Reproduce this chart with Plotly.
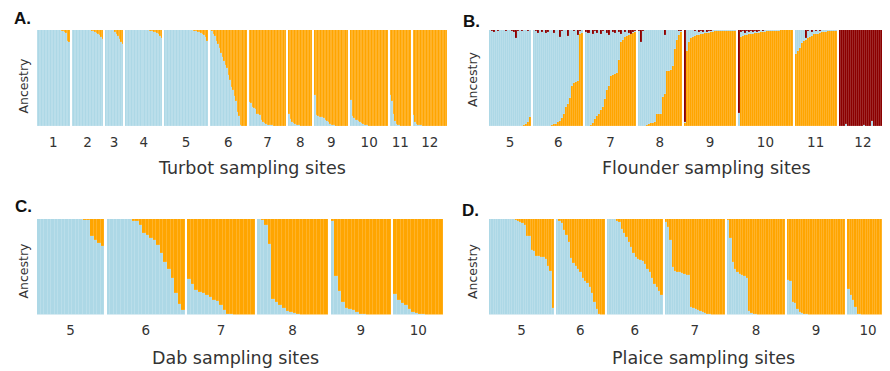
import plotly.graph_objects as go

# ---------------- data: ancestry proportions per individual ----------------
# Turbot (K=2): proportion of the light-blue cluster; orange = 1 - blue
turbot_sites = ["1", "2", "3", "4", "5", "6", "7", "8", "9", "10", "11", "12"]
turbot_blue = [
    [1, 1, 1, 1, 1, 1, 1, 1, 1, 1, 1, 1, 1, 1, 1, 0.995, 0.99, 0.985, 0.98, 0.97, 0.89, 0.88],
    [1, 1, 1, 1, 1, 1, 1, 1, 1, 1, 1, 0.998, 0.995, 0.99, 0.985, 0.98, 0.97, 0.96, 0.95, 0.93, 0.91],
    [1, 1, 1, 1, 1, 0.995, 0.98, 0.96, 0.94, 0.91, 0.88, 0.85],
    [1, 1, 1, 1, 1, 1, 1, 1, 1, 1, 1, 1, 1, 1, 0.998, 0.996, 0.994, 0.99, 0.985, 0.98, 0.975, 0.97, 0.96, 0.94, 0.92],
    [1, 1, 1, 1, 1, 1, 1, 1, 1, 1, 1, 1, 1, 1, 1, 0.999, 0.998, 0.997, 0.995, 0.993, 0.99, 0.985, 0.98, 0.975, 0.97, 0.96, 0.95, 0.93, 0.89],
    [1.0, 0.99, 0.96, 0.94, 0.89, 0.85, 0.81, 0.76, 0.72, 0.68, 0.64, 0.6, 0.53, 0.48, 0.41, 0.38, 0.31, 0.26, 0.15, 0.1, 0.01, 0, 0, 0, 0],
    [0.25, 0.24, 0.2, 0.19, 0.18, 0.13, 0.12, 0.11, 0.06, 0.04, 0.03, 0.02, 0.015, 0.01, 0.01, 0.01, 0.005, 0.005, 0.005, 0, 0, 0, 0, 0, 0],
    [0.12, 0.07, 0.04, 0.03, 0.02, 0.015, 0.01, 0.01, 0.005, 0.005, 0, 0, 0, 0, 0, 0],
    [0.32, 0.11, 0.1, 0.09, 0.09, 0.09, 0.08, 0.06, 0.05, 0.04, 0.02, 0.015, 0.01, 0.01, 0.005, 0.005, 0, 0, 0, 0, 0, 0, 0],
    [0.27, 0.1, 0.08, 0.06, 0.06, 0.05, 0.04, 0.03, 0.02, 0.015, 0.01, 0.01, 0.005, 0.005, 0, 0, 0, 0, 0, 0, 0, 0, 0, 0, 0],
    [0.32, 0.26, 0.12, 0.05, 0.02, 0.01, 0.01, 0.005, 0, 0, 0, 0, 0, 0],
    [0.11, 0.04, 0.02, 0.015, 0.01, 0.01, 0.005, 0.005, 0, 0, 0, 0, 0, 0, 0, 0, 0, 0, 0, 0, 0, 0, 0],
]

# Flounder (K=3): orange and dark-red proportions; blue = remainder
flounder_sites = ["5", "6", "7", "8", "9", "10", "11", "12"]
flounder_orange = [
    [0, 0, 0, 0, 0, 0, 0, 0, 0, 0, 0, 0, 0, 0, 0, 0, 0.005, 0.01, 0.02, 0.04, 0.09],
    [0, 0, 0, 0, 0, 0, 0, 0, 0, 0.01, 0.02, 0.02, 0.045, 0.05, 0.08, 0.13, 0.2, 0.23, 0.29, 0.42, 0.45, 0.46, 0.47, 0.96, 0.97],
    [0, 0.005, 0.01, 0.03, 0.07, 0.1, 0.12, 0.17, 0.2, 0.28, 0.38, 0.42, 0.52, 0.53, 0.54, 0.55, 0.69, 0.88, 0.9, 0.93, 0.94, 0.95, 0.96, 0.97, 0.98],
    [0, 0, 0, 0.005, 0.01, 0.02, 0.03, 0.03, 0.04, 0.12, 0.12, 0.13, 0.3, 0.33, 0.57, 0.57, 0.58, 0.62, 0.8, 0.9, 0.95, 0.98],
    [0.03, 0.78, 0.88, 0.92, 0.93, 0.94, 0.95, 0.95, 0.96, 0.96, 0.97, 0.97, 0.97, 0.98, 0.98, 0.99, 0.99, 0.99, 0.99, 0.99, 0.99, 0.99, 0.99, 0.99, 0.99, 0.99],
    [0, 0.93, 0.94, 0.95, 0.95, 0.96, 0.96, 0.96, 0.97, 0.97, 0.97, 0.98, 0.98, 0.98, 0.99, 0.99, 0.99, 0.99, 0.99, 0.99, 0.99, 1, 1, 1, 1, 1, 1],
    [0.75, 0.78, 0.81, 0.86, 0.89, 0.9, 0.92, 0.93, 0.94, 0.96, 0.96, 0.96, 0.97, 0.975, 0.98, 0.98, 0.99, 0.99, 0.99, 0.99, 0.99],
    [0, 0, 0, 0, 0, 0, 0, 0, 0, 0, 0, 0, 0, 0, 0, 0, 0, 0, 0, 0, 0, 0, 0, 0],
]
flounder_red = [
    [0, 0.01, 0.02, 0, 0.015, 0, 0.005, 0, 0.01, 0, 0, 0.01, 0.02, 0.08, 0.01, 0, 0.01, 0, 0, 0.01, 0],
    [0, 0.01, 0.03, 0, 0.02, 0, 0.03, 0.02, 0, 0, 0.03, 0, 0, 0.07, 0.01, 0, 0, 0.06, 0, 0, 0.01, 0, 0.05, 0.01, 0],
    [0.02, 0.03, 0, 0.04, 0.01, 0.03, 0, 0.04, 0.01, 0, 0.03, 0.05, 0, 0.02, 0.03, 0, 0.02, 0.04, 0, 0.02, 0, 0.03, 0.04, 0.02, 0.01],
    [0.01, 0.12, 0.01, 0, 0.005, 0, 0, 0, 0, 0, 0, 0, 0, 0.05, 0, 0, 0, 0, 0, 0, 0.01, 0.01],
    [0.96, 0, 0, 0, 0, 0.01, 0, 0.02, 0.01, 0.02, 0, 0.02, 0.01, 0.01, 0, 0, 0, 0, 0, 0, 0, 0, 0, 0, 0, 0],
    [0.86, 0.02, 0.01, 0.03, 0.01, 0.02, 0.01, 0.02, 0.01, 0.02, 0.01, 0, 0.01, 0, 0, 0, 0, 0, 0, 0, 0, 0, 0, 0, 0, 0, 0],
    [0, 0, 0, 0, 0, 0.08, 0.01, 0, 0.02, 0, 0.01, 0, 0.01, 0, 0, 0, 0, 0, 0, 0, 0],
    [1, 1, 1, 0.98, 1, 1, 1, 1, 1, 1, 1, 1, 0.99, 1, 1, 1, 0.945, 1, 1, 1, 1, 1, 0.9, 1],
]

# Dab (K=2): blue proportion
dab_sites = ["5", "6", "7", "8", "9", "10"]
dab_blue = [
    [1, 1, 1, 1, 1, 1, 1, 1, 1, 1, 1, 0.999, 0.995, 0.99, 0.985, 0.82, 0.78, 0.75, 0.72],
    [1, 1, 1, 1, 1, 1, 0.995, 0.98, 0.98, 0.94, 0.85, 0.83, 0.8, 0.78, 0.73, 0.64, 0.55, 0.48, 0.38, 0.22, 0.11, 0.05],
    [0.37, 0.32, 0.26, 0.24, 0.23, 0.2, 0.18, 0.15, 0.14, 0.1, 0.05, 0.01, 0.005, 0, 0, 0, 0, 0, 0],
    [1, 0.99, 0.94, 0.74, 0.16, 0.13, 0.1, 0.07, 0.04, 0.03, 0.015, 0.01, 0, 0, 0, 0, 0, 0, 0, 0],
    [0.98, 0.4, 0.25, 0.13, 0.07, 0.055, 0.05, 0.025, 0.01, 0.005, 0, 0, 0, 0, 0, 0, 0],
    [0.21, 0.15, 0.12, 0.1, 0.06, 0.03, 0.015, 0.01, 0.005, 0, 0, 0, 0, 0],
]

# Plaice (K=2): blue proportion
plaice_sites = ["5", "6", "6", "7", "8", "9", "10"]
plaice_blue = [
    [1, 1, 1, 1, 1, 1, 1, 1, 1, 0.998, 0.995, 0.99, 0.98, 0.97, 0.955, 0.94, 0.82, 0.82, 0.68, 0.67, 0.61, 0.61, 0.6, 0.6, 0.58, 0.51, 0.46, 0.07],
    [1, 0.98, 0.955, 0.88, 0.83, 0.76, 0.59, 0.54, 0.51, 0.48, 0.45, 0.38, 0.35, 0.33, 0.29, 0.22, 0.13, 0.06, 0.005, 0, 0],
    [1, 1, 1, 0.995, 0.98, 0.97, 0.9, 0.85, 0.81, 0.76, 0.71, 0.64, 0.6, 0.58, 0.57, 0.56, 0.53, 0.48, 0.45, 0.38, 0.32, 0.29, 0.25, 0.2],
    [0.97, 0.92, 0.78, 0.5, 0.46, 0.45, 0.44, 0.43, 0.42, 0.41, 0.41, 0.08, 0.07, 0.06, 0.05, 0.04, 0.03, 0.02, 0.01, 0.005, 0, 0, 0, 0, 0, 0],
    [0.99, 0.8, 0.55, 0.48, 0.44, 0.42, 0.41, 0.4, 0.38, 0.04, 0.02, 0.01, 0.005, 0, 0, 0, 0, 0, 0, 0, 0, 0, 0, 0, 0],
    [0.36, 0.35, 0.13, 0.12, 0.06, 0.03, 0.02, 0.01, 0.005, 0, 0, 0, 0, 0, 0, 0, 0, 0, 0, 0, 0, 0, 0, 0, 0],
    [0.27, 0.2, 0.15, 0.08, 0.01, 0.005, 0, 0, 0, 0, 0, 0, 0, 0, 0, 0, 0, 0],
]

# ---------------- styling ----------------
BLUE = "#ADD8E6"
ORANGE = "#FFA500"
DARKRED = "#8B0000"
TXT = "#333333"
FONT = "DejaVu Sans"
W, H = 890, 371
OFF = 8  # the page body adds an 8px margin; compensate so the screenshot lines up


def px(x):
    return (x - OFF) / W


def py(y):
    return 1 - (y - OFF) / H


def layout_positions(groups, gap):
    xs, centers = [], []
    pos = 0.0
    for g in groups:
        start = pos
        for _ in g:
            xs.append(pos)
            pos += 1
        centers.append((start + pos - 1) / 2)
        pos += gap
    return xs, centers, [-0.5, pos - gap - 0.5]


def flat(groups):
    return [v for g in groups for v in g]


fig = go.Figure()
bar_style = dict(width=1, marker_line=dict(width=0.4, color="rgba(255,255,255,0.22)"),
                 showlegend=False, hoverinfo="skip")

# Panel A: turbot
xa, ca, ra = layout_positions(turbot_blue, 1.35)
tb = flat(turbot_blue)
fig.add_bar(x=xa, y=tb, marker_color=BLUE, xaxis="x", yaxis="y", **bar_style)
fig.add_bar(x=xa, y=[1 - v for v in tb], marker_color=ORANGE, xaxis="x", yaxis="y", **bar_style)

# Panel B: flounder
xb, cb, rb = layout_positions(flounder_orange, 1.0)
fo = flat(flounder_orange)
fr = flat(flounder_red)
fb = [max(0.0, 1 - o - r) for o, r in zip(fo, fr)]
fig.add_bar(x=xb, y=fo, marker_color=ORANGE, xaxis="x2", yaxis="y2", **bar_style)
fig.add_bar(x=xb, y=fb, marker_color=BLUE, xaxis="x2", yaxis="y2", **bar_style)
fig.add_bar(x=xb, y=fr, marker_color=DARKRED, xaxis="x2", yaxis="y2", **bar_style)

# Panel C: dab
xc, cc, rc = layout_positions(dab_blue, 0.75)
db = flat(dab_blue)
fig.add_bar(x=xc, y=db, marker_color=BLUE, xaxis="x3", yaxis="y3", **bar_style)
fig.add_bar(x=xc, y=[1 - v for v in db], marker_color=ORANGE, xaxis="x3", yaxis="y3", **bar_style)

# Panel D: plaice
xd, cd, rd = layout_positions(plaice_blue, 0.9)
pb = flat(plaice_blue)
fig.add_bar(x=xd, y=pb, marker_color=BLUE, xaxis="x4", yaxis="y4", **bar_style)
fig.add_bar(x=xd, y=[1 - v for v in pb], marker_color=ORANGE, xaxis="x4", yaxis="y4", **bar_style)


def xax(dom, rng, centers, labels, anchor):
    return dict(domain=[px(dom[0]), px(dom[1])], range=rng, anchor=anchor,
                showgrid=False, zeroline=False, showline=False, ticks="",
                tickmode="array", tickvals=centers, ticktext=labels,
                tickfont=dict(family=FONT, size=13.5, color=TXT),
                ticklabelstandoff=6, fixedrange=True, automargin=False)


def yax(top, bottom, anchor):
    return dict(domain=[py(bottom), py(top)], range=[0, 1], anchor=anchor,
                visible=False, fixedrange=True)


fig.update_layout(
    width=W, height=H,
    margin=dict(l=0, r=0, t=0, b=0),
    paper_bgcolor="white", plot_bgcolor="white",
    barmode="stack", bargap=0,
    xaxis=xax((37, 447), ra, ca, turbot_sites, "y"),
    yaxis=yax(30, 126, "x"),
    xaxis2=xax((489, 887), rb, cb, flounder_sites, "y2"),
    yaxis2=yax(30, 126, "x2"),
    xaxis3=xax((37, 443), rc, cc, dab_sites, "y3"),
    yaxis3=yax(219, 314.5, "x3"),
    xaxis4=xax((489, 889), rd, cd, plaice_sites, "y4"),
    yaxis4=yax(219, 314.5, "x4"),
)

annotations = []
for txt, x, y in [("Turbot sampling sites", 252, 168), ("Flounder sampling sites", 706, 168),
                  ("Dab sampling sites", 236, 358), ("Plaice sampling sites", 703, 358)]:
    annotations.append(dict(text=txt, x=px(x), y=py(y), xref="paper", yref="paper",
                            xanchor="center", yanchor="middle", showarrow=False,
                            font=dict(family=FONT, size=17.5, color=TXT)))
for x, y in [(22.5, 86), (472, 79), (22.5, 271), (472, 271)]:
    annotations.append(dict(text="Ancestry", x=px(x), y=py(y), xref="paper", yref="paper",
                            xanchor="center", yanchor="middle", showarrow=False, textangle=-90,
                            font=dict(family=FONT, size=12.5, color=TXT)))
for txt, x, y in [("A.", 12, 19), ("B.", 461, 21), ("C.", 13, 206.5), ("D.", 460, 210)]:
    annotations.append(dict(text="<b>" + txt + "</b>", x=px(x), y=py(y), xref="paper", yref="paper",
                            xanchor="left", yanchor="middle", showarrow=False,
                            font=dict(family="Liberation Sans", size=17, color="#111111")))
fig.update_layout(annotations=annotations)

fig.write_html("out.html")
